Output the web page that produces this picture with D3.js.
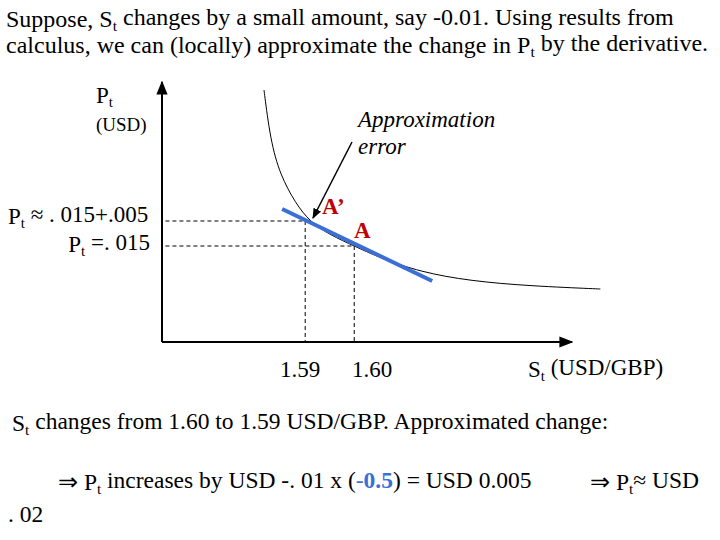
<!DOCTYPE html><html><head><meta charset="utf-8">
<script src="https://cdn.jsdelivr.net/npm/d3@7"></script>
<style>body{margin:0;background:#fff}text{font-family:"Liberation Serif","Times New Roman",serif}</style></head><body>
<svg id="c" width="720" height="540"></svg>
<script>
const curveS=[1.5816,1.5829,1.5849,1.5880,1.5910,1.5951,1.60,1.6053,1.6135,1.6237,1.6359,1.6502];
const curveP=[.0462,.0362,.0292,.0236,.0198,.0172,.015,.0126,.0098,.0080,.0070,.0064];
const tangentS=[1.5853,1.6159];
const tangentP=[.0224,.0080];
const tickS=[1.59,1.60];
const tickLabels=["1.59","1.60"];
const levelP=[.020,.015];
const svg=d3.select("#c");
const x=d3.scaleLinear().domain([1.5608,1.644]).range([162,570]);
const y=d3.scaleLinear().domain([-0.0042,0.0466]).range([342,88]);
const defs=svg.append("defs");
defs.append("marker").attr("id","ar").attr("viewBox","0 0 10 10").attr("refX",9).attr("refY",5).attr("markerWidth",7).attr("markerHeight",7).attr("orient","auto").append("path").attr("d","M0,1L10,5L0,9z").attr("fill","#000");
svg.append("line").attr("x1",x(1.5608)).attr("y1",y(-0.0042)).attr("x2",x(1.5608)).attr("y2",82).attr("stroke","#000").attr("stroke-width",2).attr("marker-end","url(#ar)");
svg.append("line").attr("x1",x(1.5608)).attr("y1",y(-0.0042)).attr("x2",572).attr("y2",y(-0.0042)).attr("stroke","#000").attr("stroke-width",2).attr("marker-end","url(#ar)");
tickS.forEach((s,i)=>{
 svg.append("line").attr("x1",x(1.5615)).attr("x2",x(s)).attr("y1",y(levelP[i])).attr("y2",y(levelP[i])).attr("stroke","#000").attr("stroke-dasharray","4,3");
 svg.append("line").attr("x1",x(s)).attr("x2",x(s)).attr("y1",y(levelP[i])).attr("y2",y(-0.0042)).attr("stroke","#000").attr("stroke-dasharray","4,3");
 svg.append("text").attr("x",x(s)+(i?18:-5)).attr("y",377).attr("text-anchor","middle").attr("font-size",23).text(tickLabels[i]);
});
const pts=curveS.map((s,i)=>[x(s),y(curveP[i])]);
svg.append("path").attr("d",d3.line().curve(d3.curveBasis)([pts[0],...pts,pts[pts.length-1]])).attr("fill","none").attr("stroke","#000").attr("stroke-width",1);
svg.append("line").attr("x1",x(tangentS[0])).attr("y1",y(tangentP[0])).attr("x2",x(tangentS[1])).attr("y2",y(tangentP[1])).attr("stroke","#3b6fd6").attr("stroke-width",4);
svg.append("line").attr("x1",352).attr("y1",142).attr("x2",313).attr("y2",218).attr("stroke","#000").attr("stroke-width",1.5).attr("marker-end","url(#ar)");
function t(xp,yp,size,html,opts={}){const e=svg.append("text").attr("x",xp).attr("y",yp).attr("font-size",size).html(html);for(const k in opts)e.attr(k,opts[k]);return e;}
const sub='<tspan font-size="0.65em" dy="0.25em">t</tspan><tspan dy="-0.25em">';
t(6,27,24,'Suppose, S'+sub+' changes by a small amount, say -0.01. Using results from</tspan>');
t(6,53,24,'calculus, we can (locally) approximate the change in P'+sub+' by the derivative.</tspan>');
t(96,103,23,'P<tspan font-size="0.65em" dy="0.25em">t</tspan>');
t(96,131,19,'(USD)');
t(358,127,23,'Approximation',{"font-style":"italic"});
t(358,154,23,'error',{"font-style":"italic"});
t(322,214,23,'A’',{"font-weight":"bold","fill":"#c00000"});
t(354,238,23,'A',{"font-weight":"bold","fill":"#c00000"});
t(8,224,23,'P'+sub+' ≈ . 015+.005</tspan>');
t(150,252,23,'P'+sub+' =. 015</tspan>',{"text-anchor":"end"});
t(528,377,23,'S'+sub+' (USD/GBP)</tspan>');
t(12,431,23.5,'S'+sub+' changes from 1.60 to 1.59 USD/GBP. Approximated change:</tspan>');
t(58,490,23.5,'⇒ P'+sub+' increases by USD -. 01 x (<tspan fill="#3b6fd6">-</tspan><tspan fill="#3b6fd6" font-weight="bold">0.5</tspan>) = USD 0.005</tspan>');
t(590,490,23.5,'⇒ P'+sub+'≈ USD</tspan>');
t(8,522,23.5,'. 02');
</script></body></html>
